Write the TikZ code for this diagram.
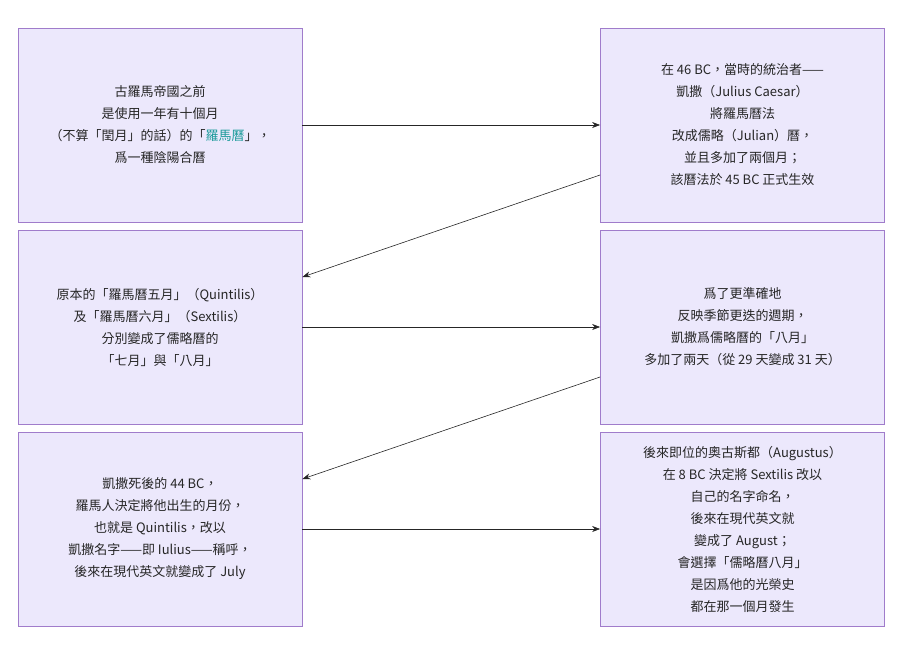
\documentclass[tikz,border=0pt]{standalone}
\usepackage{fontspec}
\setmainfont{Noto Sans CJK TC}
\usetikzlibrary{arrows.meta}
\definecolor{boxfill}{HTML}{ECE8FC}
\definecolor{boxline}{HTML}{A07CCB}
\definecolor{teal}{HTML}{1A9A9A}
\begin{document}
\begin{tikzpicture}[x=1pt,y=-1pt,
  box/.style={draw=boxline,fill=boxfill,line width=0.8pt,minimum width=284pt,minimum height=194pt,align=center,font=\fontsize{13}{22}\selectfont,text=black!85,inner sep=0pt},
  arr/.style={draw=black!85,line width=0.6pt,-{Stealth[length=8pt,width=6pt]}}]
\useasboundingbox (0,0) rectangle (902,659);
\node[box] (a) at (160,125) {古羅馬帝國之前\\是使用一年有十個月\\（不算「閏月」的話）的「\textcolor{teal}{羅馬曆}」，\\爲一種陰陽合曆};
\node[box] (b) at (742.5,125) {在 46 BC，當時的統治者——\\凱撒（Julius Caesar）\\將羅馬曆法\\改成儒略（Julian）曆，\\並且多加了兩個月；\\該曆法於 45 BC 正式生效};
\node[box] (c) at (160,327) {原本的「羅馬曆五月」（Quintilis）\\及「羅馬曆六月」（Sextilis）\\分別變成了儒略曆的\\「七月」與「八月」};
\node[box] (d) at (742.5,327) {爲了更準確地\\反映季節更迭的週期，\\凱撒爲儒略曆的「八月」\\多加了兩天（從 29 天變成 31 天）};
\node[box] (e) at (160,529) {凱撒死後的 44 BC，\\羅馬人決定將他出生的月份，\\也就是 Quintilis，改以\\凱撒名字——即 Iulius——稱呼，\\後來在現代英文就變成了 July};
\node[box] (f) at (742.5,529) {後來即位的奧古斯都（Augustus）\\在 8 BC 決定將 Sextilis 改以\\自己的名字命名，\\後來在現代英文就\\變成了 August；\\會選擇「儒略曆八月」\\是因爲他的光榮史\\都在那一個月發生};
\draw[arr] (a.east) -- (b.west);
\draw[arr] ([yshift=-50pt]b.west) -- ([yshift=50pt]c.east);
\draw[arr] (c.east) -- (d.west);
\draw[arr] ([yshift=-50pt]d.west) -- ([yshift=50pt]e.east);
\draw[arr] (e.east) -- (f.west);
\end{tikzpicture}
\end{document}
